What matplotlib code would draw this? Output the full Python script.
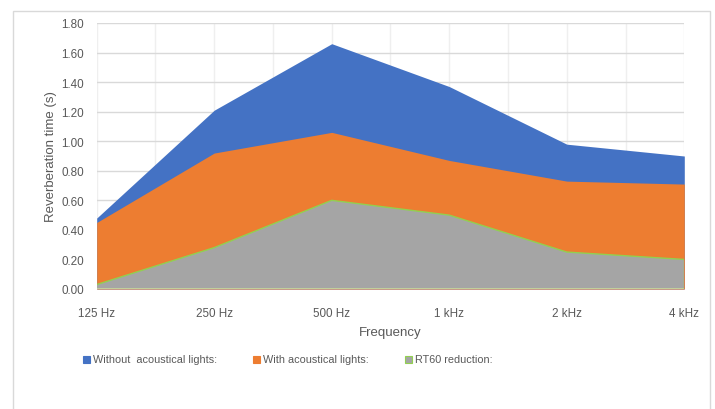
import matplotlib.pyplot as plt
from matplotlib.patches import Rectangle
import numpy as np

plt.rcParams['font.family'] = ['Liberation Sans', 'DejaVu Sans']

freqs = ['125 Hz', '250 Hz', '500 Hz', '1 kHz', '2 kHz', '4 kHz']
without_lights = [0.48, 1.21, 1.66, 1.37, 0.98, 0.90]
with_lights = [0.45, 0.92, 1.06, 0.87, 0.73, 0.71]
rt60_reduction = [0.03, 0.28, 0.60, 0.50, 0.25, 0.20]
labels = ['Without  acoustical lights:', 'With acoustical lights:', 'RT60 reduction:']

blue = '#4472c4'
orange = '#ed7d31'
gray = '#a5a5a5'
green = '#92d050'
txt = '#595959'

W, H = 715, 410
fig = plt.figure(figsize=(W / 100, H / 100), dpi=100)
ax = fig.add_axes([96.7 / W, 1 - 290 / H, (684.3 - 96.7) / W, (290 - 24) / H])

x = np.arange(len(freqs))
ax.fill_between(x, 0, without_lights, color=blue, lw=0, zorder=2)
ax.fill_between(x, 0, with_lights, color=orange, lw=0, zorder=3)
ax.fill_between(x, 0, rt60_reduction, facecolor=gray, edgecolor='none', zorder=4)
# green outline round the reduction area
ax.plot(x, rt60_reduction, color=green, lw=1, zorder=5)
ax.plot([x[0], x[-1]], [0, 0], color='#c9d89a', lw=1.2, zorder=5)
ax.plot([x[-1], x[-1]], [0, rt60_reduction[-1]], color=green, lw=1, zorder=5)

ax.set_xlim(0, len(freqs) - 1)
ax.set_ylim(0, 1.8)
ax.set_yticks(np.arange(0, 1.81, 0.2))
ax.set_yticklabels(['%.2f' % v for v in np.arange(0, 1.81, 0.2)])
ax.set_xticks(x)
ax.set_xticklabels(freqs)
ax.set_xticks(np.arange(0.5, len(freqs) - 1, 1), minor=True)

ax.grid(axis='y', color='#d9d9d9', lw=1, zorder=0)
ax.grid(axis='x', which='both', color='#efefef', lw=1, zorder=0)
ax.set_axisbelow(True)
for s in ax.spines.values():
    s.set_visible(False)
ax.tick_params(which='both', length=0, colors=txt, labelsize=8.4)
ax.tick_params(axis='x', pad=13)
ax.tick_params(axis='y', pad=9)

ax.set_xlabel('Frequency', color=txt, fontsize=9.5, labelpad=5)
ax.set_ylabel('Reverberation time (s)', color=txt, fontsize=9.5, labelpad=3)

# chart border
fig.add_artist(Rectangle((13 / W, -0.1), (710 - 13) / W, 1.1 - 12 / H,
                         transform=fig.transFigure, fill=False,
                         edgecolor='#d9d9d9', lw=1))

# legend
leg_x = [83, 253, 405]
colors = [blue, orange, gray]
edges = [blue, orange, green]
for lx, lab, c, e in zip(leg_x, labels, colors, edges):
    fig.add_artist(Rectangle((lx / W, 1 - 364 / H), 7 / W, 7 / H,
                             transform=fig.transFigure, facecolor=c,
                             edgecolor=e, lw=0.8))
    fig.text((lx + 10) / W, 1 - 360 / H, lab, color=txt, fontsize=7.8,
             va='center', ha='left')

fig.savefig('out.png', dpi=100)
